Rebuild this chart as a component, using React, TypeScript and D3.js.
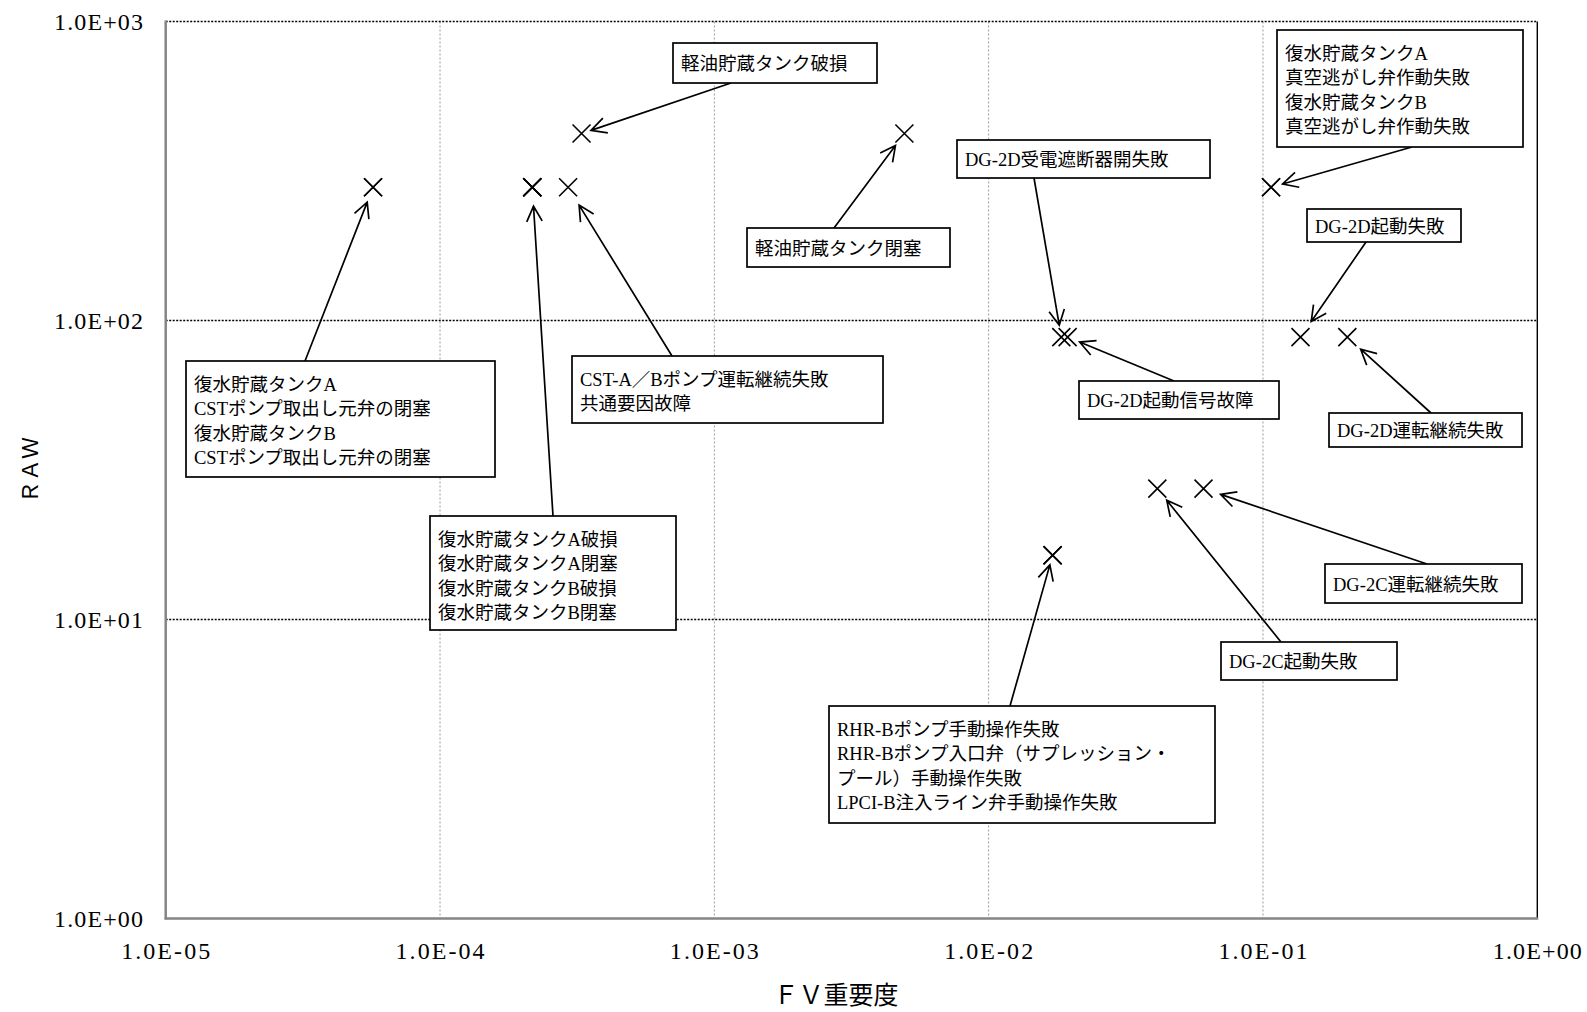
import React from 'react';
import * as d3 from 'd3';

const W = 1587;
const H = 1012;

// axis ticks
const xTicks = [1e-5, 1e-4, 1e-3, 1e-2, 1e-1, 1];
const xTickLabels = ['1.0E-05', '1.0E-04', '1.0E-03', '1.0E-02', '1.0E-01', '1.0E+00'];
const yTicks = [1, 10, 100, 1000];
const yTickLabels = ['1.0E+00', '1.0E+01', '1.0E+02', '1.0E+03'];

// basic events (FV importance, RAW)
const eventNames = [
  '復水貯蔵タンクA CSTポンプ取出し元弁の閉塞',
  '復水貯蔵タンクB CSTポンプ取出し元弁の閉塞',
  '復水貯蔵タンクA破損',
  '復水貯蔵タンクA閉塞',
  '復水貯蔵タンクB破損',
  '復水貯蔵タンクB閉塞',
  'CST-A／Bポンプ運転継続失敗 共通要因故障',
  '軽油貯蔵タンク破損',
  '軽油貯蔵タンク閉塞',
  'DG-2D受電遮断器開失敗',
  'DG-2D起動信号故障',
  '復水貯蔵タンクA 真空逃がし弁作動失敗',
  '復水貯蔵タンクB 真空逃がし弁作動失敗',
  'DG-2D起動失敗',
  'DG-2D運転継続失敗',
  'DG-2C起動失敗',
  'DG-2C運転継続失敗',
  'RHR-Bポンプ手動操作失敗',
  'RHR-Bポンプ入口弁（サプレッション・プール）手動操作失敗',
  'LPCI-B注入ライン弁手動操作失敗',
];
const fvValues = [
  5.7e-5, 5.7e-5, 2.17e-4, 2.17e-4, 2.17e-4, 2.17e-4, 2.93e-4, 3.28e-4, 4.93e-3,
  0.0184, 0.0194, 0.107, 0.107, 0.137, 0.203, 0.0412, 0.0607, 0.0171, 0.0171, 0.0171,
];
const rawValues = [
  279, 279, 279, 279, 279, 279, 279, 422, 422,
  88, 88, 279, 279, 88, 88, 27.4, 27.4, 16.4, 16.4, 16.4,
];

// callout boxes: text lines, box [x, y, w, h], arrow start, target event, gap at the marker
const callouts = [
  { lines: ['復水貯蔵タンクA', 'CSTポンプ取出し元弁の閉塞', '復水貯蔵タンクB', 'CSTポンプ取出し元弁の閉塞'], box: [186, 361, 309, 116], from: [305, 361], target: 0, gap: 16 },
  { lines: ['復水貯蔵タンクA破損', '復水貯蔵タンクA閉塞', '復水貯蔵タンクB破損', '復水貯蔵タンクB閉塞'], box: [430, 516, 246, 114], from: [553, 516], target: 2, gap: 19 },
  { lines: ['CST-A／Bポンプ運転継続失敗', '共通要因故障'], box: [572, 356, 311, 67], from: [672, 356], target: 6, gap: 21 },
  { lines: ['軽油貯蔵タンク破損'], box: [673, 43, 204, 40], from: [731, 83], target: 7, gap: 10 },
  { lines: ['軽油貯蔵タンク閉塞'], box: [747, 228, 203, 39], from: [834, 228], target: 8, gap: 15 },
  { lines: ['DG-2D受電遮断器開失敗'], box: [957, 140, 253, 38], from: [1034, 178], target: 9, gap: 12 },
  { lines: ['DG-2D起動信号故障'], box: [1079, 381, 200, 38], from: [1174, 381], target: 10, gap: 13 },
  { lines: ['復水貯蔵タンクA', '真空逃がし弁作動失敗', '復水貯蔵タンクB', '真空逃がし弁作動失敗'], box: [1277, 30, 246, 117], from: [1412, 147], target: 11, gap: 12 },
  { lines: ['DG-2D起動失敗'], box: [1307, 209, 154, 33], from: [1366, 242], target: 13, gap: 19 },
  { lines: ['DG-2D運転継続失敗'], box: [1329, 413, 193, 34], from: [1431, 413], target: 14, gap: 18 },
  { lines: ['DG-2C運転継続失敗'], box: [1325, 564, 197, 39], from: [1427, 564], target: 16, gap: 18 },
  { lines: ['DG-2C起動失敗'], box: [1221, 642, 176, 38], from: [1281, 642], target: 15, gap: 15 },
  { lines: ['RHR-Bポンプ手動操作失敗', 'RHR-Bポンプ入口弁（サプレッション・', 'プール）手動操作失敗', 'LPCI-B注入ライン弁手動操作失敗'], box: [829, 706, 386, 117], from: [1010, 706], target: 17, gap: 10 },
];

const FONT = "'Liberation Serif', 'Noto Sans CJK JP', serif";

const x = d3.scaleLog().domain([1e-5, 1]).range([165.7, 1537.3]);
const y = d3.scaleLog().domain([1, 1000]).range([918.5, 21.5]);

function Arrow({ from, tx, ty, gap }: { from: number[]; tx: number; ty: number; gap: number }) {
  const dx = from[0] - tx;
  const dy = from[1] - ty;
  const len = Math.hypot(dx, dy);
  const ux = dx / len;
  const uy = dy / len;
  const ex = tx + ux * gap;
  const ey = ty + uy * gap;
  const a = (27 * Math.PI) / 180;
  const hl = 17;
  const rot = (ang: number) => [ux * Math.cos(ang) - uy * Math.sin(ang), ux * Math.sin(ang) + uy * Math.cos(ang)];
  const [r1x, r1y] = rot(a);
  const [r2x, r2y] = rot(-a);
  const p = d3.path();
  p.moveTo(from[0], from[1]);
  p.lineTo(ex, ey);
  p.moveTo(ex + r1x * hl, ey + r1y * hl);
  p.lineTo(ex, ey);
  p.lineTo(ex + r2x * hl, ey + r2y * hl);
  return <path d={p.toString()} fill="none" stroke="#000" strokeWidth={1.7} />;
}

export default function App() {
  const [x0, x1] = x.range();
  const [yb, yt] = y.range();
  return (
    <svg width={W} height={H} style={{ position: 'absolute', left: 0, top: 0, background: '#fff' }}>
      <rect x={0} y={0} width={W} height={H} fill="#fff" />
      {/* vertical grid */}
      {xTicks.slice(1, -1).map((t) => (
        <line key={'vx' + t} x1={x(t)} x2={x(t)} y1={yt} y2={yb} stroke="#9a9a9a" strokeWidth={1} strokeDasharray="2,2" />
      ))}
      {/* horizontal grid */}
      {yTicks.slice(1).map((t) => (
        <line key={'hy' + t} x1={x0} x2={x1} y1={y(t)} y2={y(t)} stroke="#000" strokeWidth={1.4} strokeDasharray="2,1.5" />
      ))}
      {/* right frame */}
      <line x1={x1} x2={x1} y1={yt} y2={yb} stroke="#000" strokeWidth={1.4} />
      {/* axes */}
      <line x1={x0} x2={x0} y1={yt - 1} y2={yb + 1} stroke="#858585" strokeWidth={2.5} />
      <line x1={x0 - 1} x2={x1 + 1} y1={yb} y2={yb} stroke="#858585" strokeWidth={2.5} />

      {/* tick labels */}
      {xTicks.map((t, i) => (
        <text key={'xt' + t} x={x(t)} y={959} textAnchor="middle" fontFamily={FONT} fontSize={24} textLength={89} fill="#000">
          {xTickLabels[i]}
        </text>
      ))}
      {yTicks.map((t, i) => (
        <text key={'yt' + t} x={54} y={y(t) + 8} fontFamily={FONT} fontSize={24} textLength={89} fill="#000">
          {yTickLabels[i]}
        </text>
      ))}

      {/* axis titles */}
      <text x={836} y={1004} textAnchor="middle" fontFamily={FONT} fontSize={25} fill="#000">
        ＦＶ重要度
      </text>
      <text transform="translate(38,470) rotate(-90)" textAnchor="middle" fontFamily={FONT} fontSize={22} fill="#000">
        ＲＡＷ
      </text>

      {/* markers */}
      {fvValues.map((fv, i) => {
        const cx = x(fv);
        const cy = y(rawValues[i]);
        const s = 9;
        return (
          <path
            key={'m' + i}
            d={`M${cx - s},${cy - s}L${cx + s},${cy + s}M${cx - s},${cy + s}L${cx + s},${cy - s}`}
            stroke="#000"
            strokeWidth={1.6}
            fill="none"
          >
            <title>{eventNames[i]}</title>
          </path>
        );
      })}

      {/* callouts */}
      {callouts.map((c, i) => (
        <Arrow key={'a' + i} from={c.from} tx={x(fvValues[c.target])} ty={y(rawValues[c.target])} gap={c.gap} />
      ))}
      {callouts.map((c, i) => {
        const [bx, by, bw, bh] = c.box;
        const single = c.lines.length === 1;
        return (
          <g key={'c' + i}>
            <rect x={bx} y={by} width={bw} height={bh} fill="#fff" stroke="#000" strokeWidth={1.7} />
            {c.lines.map((ln, j) => (
              <text
                key={j}
                x={bx + 8}
                y={single ? by + bh / 2 + 7 : by + 30 + j * 24.4}
                fontFamily={FONT}
                fontSize={18.5}
                fill="#000"
              >
                {ln}
              </text>
            ))}
          </g>
        );
      })}
    </svg>
  );
}
